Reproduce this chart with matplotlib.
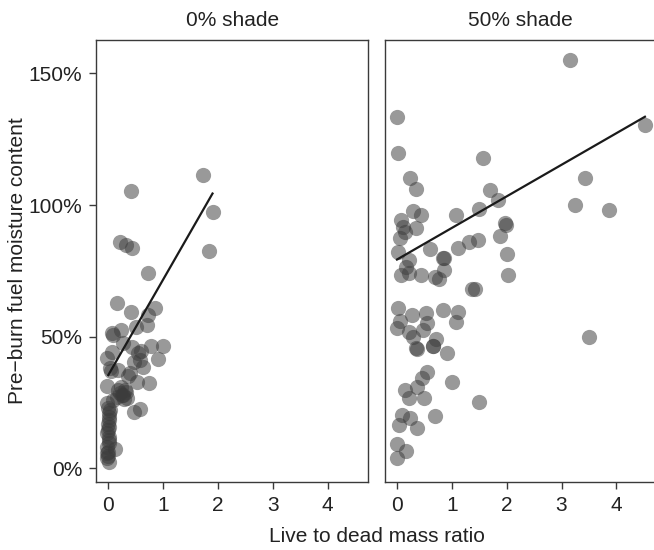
import matplotlib
matplotlib.use("Agg")
import matplotlib.pyplot as plt
import numpy as np
from matplotlib.ticker import FuncFormatter

plt.rcParams['font.family'] = ['Liberation Sans', 'DejaVu Sans']

panels = ["0% shade", "50% shade"]

# 0% shade: live to dead mass ratio vs pre-burn moisture (%)
ratio_0 = [1.73, 1.90, 1.83, 0.41, 0.21, 0.32, 0.44, 0.72, 0.16, 0.41, 0.85, 0.73,
           0.71, 0.50, 0.24, 0.06, 0.09, 0.78, 0.99, 0.91, 0.27, 0.43, 0.55, 0.58,
           0.46, 0.64, 0.06, -0.02, 0.03, 0.18, 0.40, 0.75, 0.52, -0.02, 0.18, 0.27,
           0.15, 0.34, 0.09, 0.58, 0.46, -0.02, 0.02, 0.01, 0.01, -0.02, 0.01, -0.02,
           0.12, -0.02, -0.02, 0.01, 0.00, 0.02, 0.00, 0.03, 0.21, 0.30, 0.24, 0.36,
           0.60, 0.05, 0.00, 0.01, 0.00, 0.02, 0.00, 0.25, 0.28, 0.32]
moist_0 = [111.3, 97.5, 82.6, 105.3, 86.0, 84.8, 83.5, 74.0, 62.9, 59.2, 61.0, 58.2,
           54.4, 53.8, 52.5, 51.3, 50.6, 46.4, 46.4, 41.4, 47.5, 46.2, 43.9, 41.1,
           40.5, 38.6, 44.3, 41.8, 38.0, 37.3, 36.1, 32.5, 32.9, 31.3, 29.7, 27.8,
           27.2, 26.6, 25.9, 22.4, 21.5, 24.7, 20.9, 18.3, 15.8, 13.3, 10.7, 8.2,
           7.2, 5.7, 3.8, 2.5, 17.0, 12.0, 6.0, 22.0, 28.5, 29.7, 31.0, 35.0,
           44.5, 37.0, 4.5, 9.5, 14.5, 19.5, 23.0, 28.0, 26.5, 29.0]

# 50% shade
ratio_50 = [3.16, 0.00, 0.02, 4.52, 1.56, 0.24, 0.35, 3.42, 3.24, 3.87, 1.70, 1.85,
            1.50, 0.29, 0.43, 1.08, 0.08, 0.11, 0.34, 0.14, 1.96, 1.98, 0.06, 1.87,
            1.48, 1.31, 1.12, 0.61, 0.02, 2.01, 0.84, 0.85, 0.22, 0.16, 0.85, 0.44,
            2.03, 0.70, 0.76, 0.07, 0.22, 1.36, 1.42, 0.02, 0.28, 0.52, 0.83, 1.11,
            1.08, 0.54, 0.06, 0.00, 0.22, 0.47, 0.29, 0.71, 0.66, 0.65, 0.34, 0.36,
            0.92, 3.50, 0.54, 0.46, 0.37, 0.14, 0.22, 0.50, 1.00, 1.50, 0.10, 0.23,
            0.69, 0.03, 0.36, 0.00, 0.17, 0.00]
moist_50 = [155.1, 133.3, 119.9, 130.4, 118.0, 110.4, 106.1, 110.1, 100.0, 98.1, 105.7, 101.9,
            98.4, 97.8, 96.2, 96.2, 94.3, 91.8, 91.1, 89.9, 93.0, 92.6, 87.3, 88.3,
            86.7, 86.1, 83.8, 83.2, 82.1, 81.4, 80.0, 79.8, 79.1, 76.6, 75.2, 73.5,
            73.3, 72.5, 71.8, 73.4, 74.0, 68.1, 68.1, 61.0, 58.2, 58.9, 60.1, 59.2,
            55.4, 55.3, 56.1, 53.2, 51.9, 52.5, 49.8, 49.0, 46.5, 46.4, 45.6, 45.3,
            43.7, 49.8, 36.7, 34.2, 31.0, 29.7, 26.6, 26.6, 32.7, 25.1, 20.2, 19.2,
            19.9, 16.4, 15.4, 9.1, 6.6, 3.8]

# fitted lines (intercept, slope)
fit_0 = (35.4, 36.3)
fit_50 = (79.3, 12.0)

xticks = [0, 1, 2, 3, 4]
yticks = [0, 50, 100, 150]

W, H = 654, 550
fig = plt.figure(figsize=(W / 100, H / 100), dpi=100)

def px_axes(x0, x1, y_top, y_bot):
    return fig.add_axes([x0 / W, (H - y_bot) / H, (x1 - x0) / W, (y_bot - y_top) / H])

ax1 = px_axes(96, 368.3, 40, 481.7)
ax2 = px_axes(384.7, 657, 40, 481.7)

frame_col = '#3a3a3a'
txt_col = '#222222'
for ax, xs, ys, fit, title in [(ax1, ratio_0, moist_0, fit_0, panels[0]),
                               (ax2, ratio_50, moist_50, fit_50, panels[1])]:
    ax.scatter(xs, ys, s=120, color='#3c3c3c', alpha=0.52, linewidths=0, zorder=2)
    xl = np.array([max(min(xs), 0.0), max(xs)])
    ax.plot(xl, fit[0] + fit[1] * xl, color='#1a1a1a', lw=1.6, zorder=3)
    ax.set_xlim(-0.224, 4.74)
    ax.set_ylim(-5.1, 162.7)
    ax.set_xticks(xticks)
    ax.set_yticks(yticks)
    ax.tick_params(direction='out', length=5, width=1, color=frame_col,
                   labelsize=15, labelcolor=txt_col, pad=5)
    for sp in ax.spines.values():
        sp.set_color(frame_col)
        sp.set_linewidth(1)
    ax.set_title(title, fontsize=15, color=txt_col, pad=10)

ax1.yaxis.set_major_formatter(FuncFormatter(lambda v, p: '%d%%' % v))
ax2.tick_params(axis='y', left=False, labelleft=False)

fig.text(18 / W, 1 - 261 / H, 'Pre\u2212burn fuel moisture content', rotation=90,
         ha='center', va='center', fontsize=15, color=txt_col)
fig.text(377 / W, 1 - 537 / H, 'Live to dead mass ratio', ha='center', va='center',
         fontsize=15, color=txt_col)

plt.savefig('out.png', dpi=100)
